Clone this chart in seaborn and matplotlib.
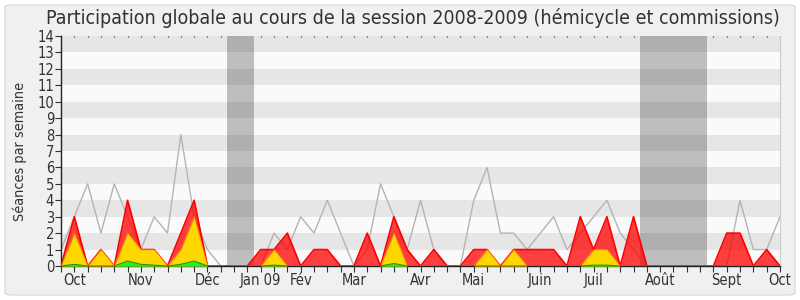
import matplotlib
matplotlib.use("Agg")
import matplotlib.pyplot as plt
from matplotlib.patches import FancyBboxPatch
import seaborn as sns
import pandas as pd

sns.set_style("white")
plt.rcParams['font.family'] = ['DejaVu Sans']
plt.rcParams['font.stretch'] = 'condensed'

weeks = list(range(55))
total = [1, 3, 5, 2, 5, 3, 1, 3, 2, 8, 3, 1, 0, 0, 0, 0, 2, 1, 3, 2, 4, 2, 0, 1, 5, 3, 1, 4, 1, 0,
         0, 4, 6, 2, 2, 1, 2, 3, 1, 2, 3, 4, 2, 1, 0, 0, 0, 0, 0, 0, 0, 4, 1, 1, 3]
red = [0, 3, 0, 1, 0, 4, 1, 1, 0, 2, 4, 0, 0, 0, 0, 1, 1, 2, 0, 1, 1, 0, 0, 2, 0, 3, 1, 0, 1, 0,
       0, 1, 1, 0, 1, 1, 1, 1, 0, 3, 1, 3, 0, 3, 0, 0, 0, 0, 0, 0, 2, 2, 0, 1, 0]
yellow = [0, 2, 0, 1, 0, 2, 1, 1, 0, 1, 3, 0, 0, 0, 0, 0, 1, 0, 0, 0, 0, 0, 0, 0, 0, 2, 0, 0, 0, 0,
          0, 0, 1, 0, 1, 0, 0, 0, 0, 0, 1, 1, 0, 0, 0, 0, 0, 0, 0, 0, 0, 0, 0, 0, 0]
green = [0, 0.1, 0, 0, 0, 0.3, 0.1, 0.05, 0, 0.1, 0.3, 0, 0, 0, 0, 0, 0.05, 0, 0, 0, 0, 0, 0, 0, 0,
         0.15, 0, 0, 0, 0, 0, 0, 0, 0, 0, 0, 0, 0, 0, 0, 0.05, 0.05, 0, 0, 0, 0, 0, 0, 0, 0, 0, 0, 0, 0, 0]
vacations = [(12.5, 14.5), (43.5, 48.5)]
month_pos = [1, 6, 11, 15, 18, 22, 27, 31, 36, 40, 45, 50, 54]
month_labels = ["Oct", "Nov", "Déc", "Jan 09", "Fév", "Mar", "Avr", "Mai", "Juin", "Juil", "Août", "Sept", "Oct"]

df = pd.DataFrame({"week": weeks, "total": total, "red": red, "yellow": yellow, "green": green})

fig = plt.figure(figsize=(8, 3), dpi=100)
fig.patch.set_facecolor("white")
bg = FancyBboxPatch((5 / 800, 5 / 300), 790 / 800, 290 / 300, boxstyle="round,pad=0,rounding_size=0.008",
                    transform=fig.transFigure, facecolor="#f0f0f0", edgecolor="#dcdcdc", linewidth=1, zorder=-10)
fig.patches.append(bg)

ax = fig.add_axes([61 / 800, 34 / 300, 719 / 800, 230 / 300])
ax.set_facecolor("#fafafa")
ax.set_xlim(0, 54)
ax.set_ylim(0, 14)

for a, b in vacations:
    ax.axvspan(a, b, color="#bebebe", zorder=0.5, lw=0)
for k in range(1, 14, 2):
    ax.axhspan(k, k + 1, color="black", alpha=0.08, zorder=0.6, lw=0)

sns.lineplot(data=df, x="week", y="total", ax=ax, color="#b4b4b4", lw=1, zorder=1)
ax.fill_between(df["week"], 0, df["red"], color="#ff0000", alpha=0.75, lw=0, zorder=2)
sns.lineplot(data=df, x="week", y="red", ax=ax, color="#ff0000", lw=1.2, zorder=2.1)
ax.fill_between(df["week"], 0, df["yellow"], color="#ffd700", lw=0, zorder=3)
sns.lineplot(data=df, x="week", y="yellow", ax=ax, color="#ff9900", lw=0.8, alpha=0.6, zorder=3.1)
ax.fill_between(df["week"], 0, df["green"], color="#22ee22", lw=0, zorder=4)
sns.lineplot(data=df, x="week", y="green", ax=ax, color="#119911", lw=0.8, zorder=4.1)

ax.set_yticks(range(0, 15))
ax.set_xticks(month_pos)
ax.set_xticklabels(month_labels)
ax.set_xticks(weeks, minor=True)
ax.tick_params(axis="y", which="major", left=True, length=4, width=0.8, color="#333333",
               labelsize=10.5, labelcolor="#333333", pad=1)
ax.tick_params(axis="x", which="both", bottom=True, top=False, length=4, width=0.8, color="#333333",
               labelsize=10.5, labelcolor="#333333", pad=1, direction="out")
# tiny dots along the top edge
ax2 = ax.secondary_xaxis("top")
ax2.set_xticks(weeks)
ax2.tick_params(axis="x", length=0.9, width=0.9, color="#222222", labeltop=False, direction="in")
ax2.set_xticklabels([])
ax2.spines["top"].set_visible(False)

ax.set_xlabel("")
ax.set_ylabel("Séances par semaine", fontsize=10.4, color="#333333", labelpad=7)
for s in ["left", "bottom"]:
    ax.spines[s].set_color("#222222")
    ax.spines[s].set_linewidth(1)
ax.spines["top"].set_visible(False)
ax.spines["right"].set_color("#cccccc")
ax.grid(False)

fig.text(413 / 800, 1 - 18 / 300, "Participation globale au cours de la session 2008-2009 (hémicycle et commissions)",
         ha="center", va="center", fontsize=14.05, color="#333333")

fig.savefig("out.png", dpi=100, facecolor=fig.get_facecolor())
